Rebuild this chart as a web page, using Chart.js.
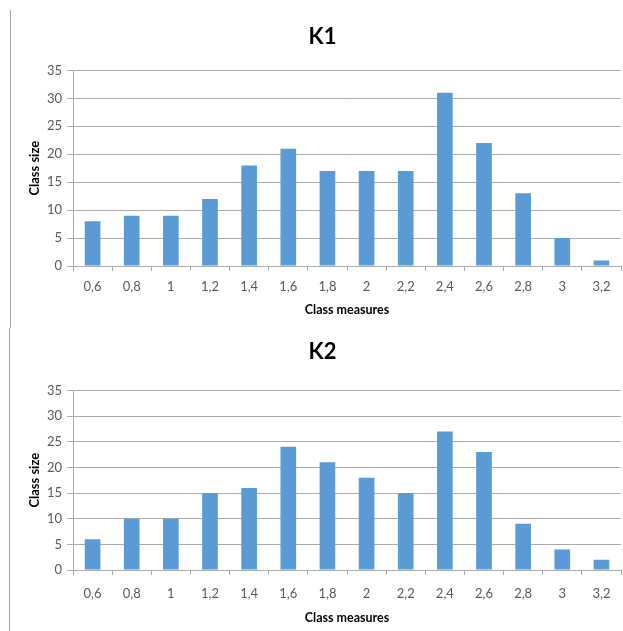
<!DOCTYPE html>
<html>
<head>
<meta charset="utf-8">
<script src="https://cdn.jsdelivr.net/npm/chart.js@4"></script>
<style>
  html, body { margin: 0; padding: 0; background: #fff; }
  #page { position: relative; width: 623px; height: 631px; overflow: hidden; }
  .box { position: absolute; left: 0; width: 623px; }
  #top { top: 0; height: 328px; }
  #bottom { top: 328px; height: 303px; }
  .edge { position: absolute; width: 1px; background: #a6a6a6; }
</style>
</head>
<body>
<div id="page">
  <div class="edge" style="left:10px; top:10px; height:318px;"></div>
  <div class="edge" style="left:9px; top:328px; height:303px;"></div>
  <div class="box" id="top"><canvas id="chart-k1" width="623" height="328"></canvas></div>
  <div class="box" id="bottom"><canvas id="chart-k2" width="623" height="303"></canvas></div>
</div>
<script>
const categories = ['0,6', '0,8', '1', '1,2', '1,4', '1,6', '1,8', '2', '2,2', '2,4', '2,6', '2,8', '3', '3,2'];
const k1Values = [8, 9, 9, 12, 18, 21, 17, 17, 17, 31, 22, 13, 5, 1];
const k2Values = [6, 10, 10, 15, 16, 24, 21, 18, 15, 27, 23, 9, 4, 2];
const yTicks = [0, 5, 10, 15, 20, 25, 30, 35];

const gridGray = '#aaaaaa';
const barBlue = '#5b9bd5';
const fontFamily = 'Lato, "Open Sans", sans-serif';

// builds one histogram; the numbers in "lay" only place the boxes
function makeChart(id, title, values, lay) {
    const ctx = document.getElementById(id).getContext('2d');
    return new Chart(ctx, {
        type: 'bar',
        data: {
            labels: categories,
            datasets: [{
                label: title,
                data: values,
                backgroundColor: barBlue,
                borderWidth: 0,
                barPercentage: 0.4,
                categoryPercentage: 1
            }]
        },
        options: {
            responsive: false,
            animation: false,
            layout: { padding: { left: 24, right: 2, top: 0, bottom: 0 } },
            plugins: {
                legend: { display: false },
                tooltip: { enabled: false },
                title: {
                    display: true,
                    text: title,
                    color: '#000',
                    font: { family: fontFamily, size: 22, weight: 'bold', lineHeight: 1.2 },
                    padding: { top: lay.titleTop, bottom: lay.titleBottom }
                }
            },
            scales: {
                x: {
                    offset: true,
                    grid: {
                        offset: true,
                        drawOnChartArea: false,
                        drawTicks: true,
                        tickLength: 5,
                        color: gridGray
                    },
                    border: { display: true, color: gridGray },
                    ticks: {
                        color: '#595959',
                        padding: lay.xPad,
                        maxRotation: 0,
                        autoSkip: false,
                        font: { family: fontFamily, size: 13 }
                    },
                    title: {
                        display: true,
                        text: 'Class measures',
                        color: '#000',
                        font: { family: fontFamily, size: 12.5, weight: 'bold', lineHeight: 1.2 },
                        padding: { top: 0, bottom: lay.xTitleBottom }
                    },
                    afterFit: s => { s.height = lay.xHeight; }
                },
                y: {
                    min: 0,
                    max: yTicks[yTicks.length - 1],
                    afterBuildTicks: s => { s.ticks = yTicks.map(v => ({ value: v })); },
                    grid: {
                        color: gridGray,
                        drawTicks: true,
                        tickLength: 6
                    },
                    border: { display: true, color: gridGray },
                    ticks: {
                        color: '#595959',
                        padding: 5,
                        font: { family: fontFamily, size: 13 }
                    },
                    title: {
                        display: true,
                        text: 'Class size',
                        color: '#000',
                        font: { family: fontFamily, size: 13, weight: 'bold', lineHeight: 1.2 },
                        padding: { top: 3, bottom: 0 }
                    },
                    afterFit: s => { s.width = 49; }
                }
            }
        }
    });
}

makeChart('chart-k1', 'K1', k1Values, { titleTop: 24, titleBottom: 20, xPad: 8, xTitleBottom: 11, xHeight: 62 });
makeChart('chart-k2', 'K2', k2Values, { titleTop: 11, titleBottom: 25, xPad: 11, xTitleBottom: 6, xHeight: 61 });
</script>
</body>
</html>
